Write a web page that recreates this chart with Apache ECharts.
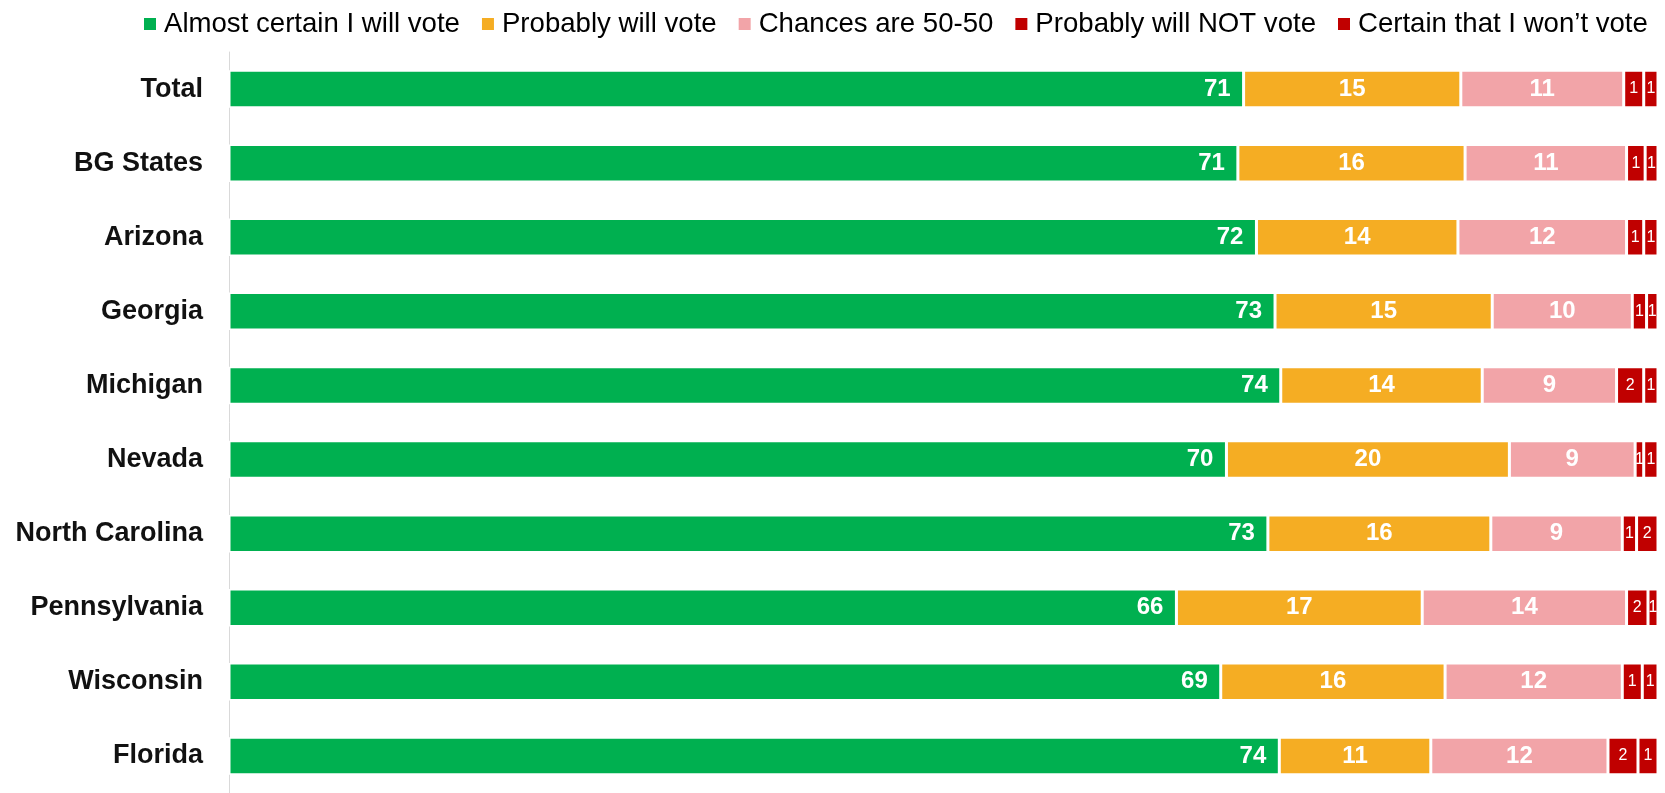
<!DOCTYPE html>
<html>
<head>
<meta charset="utf-8">
<script src="https://cdn.jsdelivr.net/npm/echarts@6/dist/echarts.min.js"></script>
<style>
html,body{margin:0;padding:0;background:#fff;}
#chart{width:1665px;height:793px;}
</style>
</head>
<body>
<div id="chart"></div>
<script>
const categories = ["Total","BG States","Arizona","Georgia","Michigan","Nevada","North Carolina","Pennsylvania","Wisconsin","Florida"];
const seriesNames = ["Almost certain I will vote","Probably will vote","Chances are 50-50","Probably will NOT vote","Certain that I won\u2019t vote"];
const almostCertain = [71.0, 70.6, 71.9, 73.2, 73.6, 69.8, 72.7, 66.3, 69.4, 73.5];
const probablyWill  = [15.2, 15.9, 14.1, 15.2, 14.1, 19.8, 15.6, 17.2, 15.7, 10.6];
const fiftyFifty    = [11.4, 11.3, 11.8,  9.8,  9.4,  8.8,  9.2, 14.3, 12.4, 12.4];
const probablyNot   = [ 1.4,  1.3,  1.2,  1.0,  1.9,  0.6,  1.0,  1.5,  1.4,  2.1];
const certainNot    = [ 1.0,  0.9,  1.0,  0.8,  1.0,  1.0,  1.5,  0.7,  1.1,  1.4];
const colors = ["#00B050","#F5AD23","#F2A4A8","#C00000","#C00000"];

const FONT = '"Liberation Sans", Arial, sans-serif';
const chart = echarts.init(document.getElementById('chart'), null, {renderer:'canvas'});

const values = [almostCertain, probablyWill, fiftyFifty, probablyNot, certainNot];
const big = {show:true, color:'#fff', fontFamily:FONT, fontWeight:'bold', fontSize:24, formatter:p=>Math.round(p.value)};
const small = {show:true, color:'#fff', fontFamily:FONT, fontWeight:'normal', fontSize:16, formatter:p=>Math.round(p.value)};

const series = values.map((arr,i)=>({
  name: seriesNames[i],
  type: 'bar',
  stack: 'all',
  barWidth: 37.5,
  data: arr,
  itemStyle: {color: colors[i], borderColor:'#fff', borderWidth:1.5},
  label: i===0 ? Object.assign({}, big, {position:'insideRight', distance:13})
        : i<3 ? Object.assign({}, big, {position:'inside'})
        : Object.assign({}, small, {position:'inside'}),
  emphasis: {disabled:true},
  animation: false
}));

chart.setOption({
  animation: false,
  backgroundColor: '#fff',
  legend: {
    data: seriesNames.map((n,i)=>({name:n, itemStyle:{color:colors[i], borderWidth:0}})),
    left: 139, top: 5,
    icon: 'rect',
    itemWidth: 12, itemHeight: 12,
    itemGap: 22,
    textStyle: {fontFamily: FONT, fontSize: 27.6, color:'#000', lineHeight:28, padding:[0,0,0,3]},
    selectedMode: false
  },
  grid: {left: 229, right: 7, top: 52, height: 750, containLabel:false},
  xAxis: {type:'value', min:0, max:100, show:false},
  yAxis: {
    type:'category', data: categories, inverse:true,
    axisLine: {show:true, lineStyle:{color:'#D9D9D9', width:1}},
    axisTick: {show:false},
    axisLabel: {margin:26, fontFamily:FONT, fontSize:27, fontWeight:'bold', color:'#111'}
  },
  series: series
});
</script>
</body>
</html>
